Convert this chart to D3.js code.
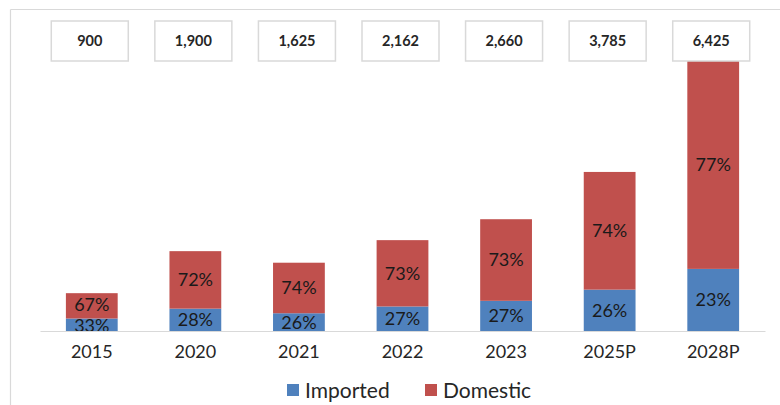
<!DOCTYPE html>
<html><head><meta charset="utf-8">
<script src="https://cdn.jsdelivr.net/npm/d3@7/dist/d3.min.js"></script>
<style>
html,body{margin:0;padding:0;background:#fff;}
svg{display:block;font-family:Lato, "Open Sans", sans-serif;}
</style></head>
<body><svg id="c" width="780" height="405"></svg>
<script>
const categories = ["2015","2020","2021","2022","2023","2025P","2028P"];
const totals = [900,1900,1625,2162,2660,3785,6425];
const totalLabels = ["900","1,900","1,625","2,162","2,660","3,785","6,425"];
const importedPct = [33,28,26,27,27,26,23];
const domesticPct = [67,72,74,73,73,74,77];
const seriesNames = ["Imported","Domestic"];
const colors = {Imported:"#4f81bd", Domestic:"#c0504d"};

const svg = d3.select("#c");
// outer frame
svg.append("line").attr("x1",10.5).attr("x2",780).attr("y1",9.5).attr("y2",9.5).attr("stroke","#d9d9d9").attr("stroke-width",1.2);
svg.append("line").attr("x1",10.5).attr("x2",10.5).attr("y1",9.5).attr("y2",405).attr("stroke","#d9d9d9").attr("stroke-width",1.2);

const x = d3.scaleBand().domain(categories).range([40,765]).paddingInner(0.5).paddingOuter(0.25);
const y = d3.scaleLinear().domain([0,6425]).range([331,61]);

const rows = categories.map((c,i)=>({cat:c, total:totals[i], Imported:totals[i]*importedPct[i]/100, Domestic:totals[i]*domesticPct[i]/100, ip:importedPct[i], dp:domesticPct[i], lbl:totalLabels[i]}));
const stack = d3.stack().keys(seriesNames)(rows);

const g = svg.append("g");
stack.forEach(s=>{
  g.selectAll(null).data(s).enter().append("rect")
    .attr("x",d=>x(d.data.cat)).attr("width",x.bandwidth())
    .attr("y",d=>y(d[1])).attr("height",d=>y(d[0])-y(d[1]))
    .attr("fill",colors[s.key]);
  g.selectAll(null).data(s).enter().append("text")
    .attr("x",d=>x(d.data.cat)+x.bandwidth()/2)
    .attr("y",d=>(y(d[0])+y(d[1]))/2 + (d.data.cat==="2015" ? (s.key==="Imported"?1:-1) : 0))
    .attr("dy","0.36em").attr("text-anchor","middle")
    .attr("font-size",18).attr("fill","#1a1a1a")
    .text(d=>(s.key==="Imported"?d.data.ip:d.data.dp)+"%");
});

// x axis
const xAxis = svg.append("g").attr("transform","translate(0,331)")
  .call(d3.axisBottom(x).tickSize(0).tickPadding(14));
xAxis.select(".domain").attr("stroke","#d9d9d9").attr("stroke-width",1.2);
xAxis.selectAll("text").attr("font-size",18).attr("fill","#262626").attr("font-family","Lato, sans-serif");

// total label boxes
const bw = 77, bh = 40;
const boxes = svg.append("g").selectAll("g").data(rows).enter().append("g")
  .attr("transform",d=>`translate(${x(d.cat)+x.bandwidth()/2-2},41)`);
boxes.append("rect").attr("x",-bw/2).attr("y",-bh/2).attr("width",bw).attr("height",bh)
  .attr("fill","#fff").attr("stroke","#d9d9d9").attr("stroke-width",1.5);
boxes.append("text").attr("text-anchor","middle").attr("dy","0.36em")
  .attr("font-size",14.5).attr("font-weight","bold").attr("fill","#262626").text(d=>d.lbl);

// legend
const legend = svg.append("g").attr("transform","translate(287,390)");
const lx = [0,138];
seriesNames.forEach((n,i)=>{
  const lg = legend.append("g").attr("transform",`translate(${lx[i]},0)`);
  lg.append("rect").attr("x",0).attr("y",-6).attr("width",12).attr("height",12).attr("fill",colors[n]);
  lg.append("text").attr("x",18).attr("dy","0.36em").attr("font-size",21).attr("fill","#262626").text(n);
});
</script></body></html>
